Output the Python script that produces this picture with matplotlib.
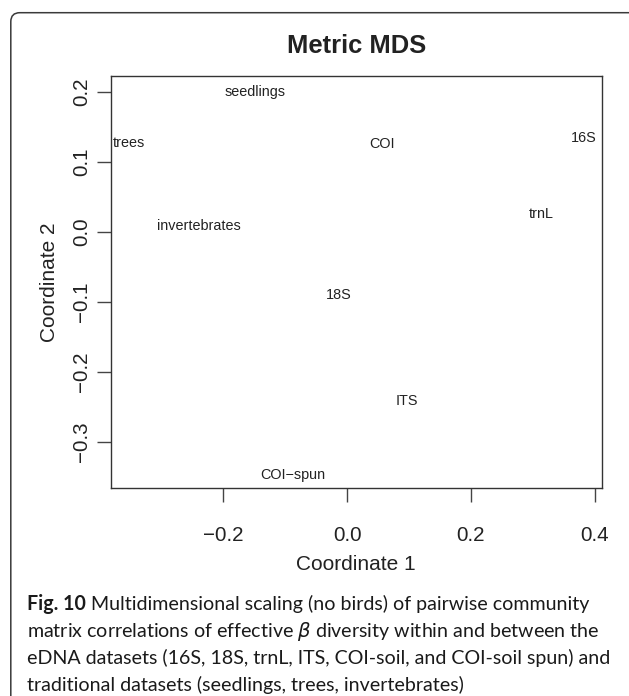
import matplotlib
matplotlib.use("Agg")
import matplotlib.pyplot as plt
from matplotlib.patches import FancyBboxPatch
from matplotlib.transforms import IdentityTransform

# MDS coordinates of each dataset
labels = ["16S", "18S", "trnL", "ITS", "COI", "COI\u2212spun",
          "seedlings", "trees", "invertebrates"]
coord1 = [0.382, -0.013, 0.314, 0.096, 0.057, -0.088, -0.149, -0.3525, -0.240]
coord2 = [0.136, -0.089, 0.027, -0.240, 0.127, -0.345, 0.201, 0.1285, 0.010]

xticks = [-0.2, 0.0, 0.2, 0.4]
yticks = [-0.3, -0.2, -0.1, 0.0, 0.1, 0.2]

title = "Metric MDS"
xlabel = "Coordinate 1"
ylabel = "Coordinate 2"
caption_bold = "Fig. 10"
caption_lines = [
    " Multidimensional scaling (no birds) of pairwise community",
    "matrix correlations of effective $\\beta$ diversity within and between the",
    "eDNA datasets (16S, 18S, trnL, ITS, COI-soil, and COI-soil spun) and",
    "traditional datasets (seedlings, trees, invertebrates)",
]

W, H = 629, 696
DPI = 100
plt.rcParams["font.family"] = ["Liberation Sans", "DejaVu Sans"]
plt.rcParams["axes.unicode_minus"] = True

fig = plt.figure(figsize=(W / DPI, H / DPI), dpi=DPI)
fig.patch.set_facecolor("white")


def fx(px):
    return px / W


def fy(py):
    return 1 - py / H


# plot region
left, right, top, bottom = 110.7, 601.7, 75.7, 488.3
ax = fig.add_axes([fx(left), fy(bottom), fx(right) - fx(left), fy(top) - fy(bottom)])

ink = "#222222"
for x, y, s in zip(coord1, coord2, labels):
    ax.text(x, y, s, ha="center", va="center_baseline", fontsize=10.4, color=ink)


def padded(vals, f=0.04):
    lo, hi = min(vals), max(vals)
    d = (hi - lo) * f
    return lo - d, hi + d


ax.set_xlim(*padded(coord1))
ax.set_ylim(*padded(coord2))
ax.set_xticks(xticks)
ax.set_yticks(yticks)
ax.set_xticklabels([f"{v:.1f}".replace("-", "\u2212") for v in xticks])
ax.set_yticklabels([f"{v:.1f}".replace("-", "\u2212") for v in yticks])

for sp in ax.spines.values():
    sp.set_linewidth(1.0)
    sp.set_color("#333333")

ax.tick_params(axis="both", length=10.4, width=1.0, color="#444444",
               labelsize=14.8, labelcolor=ink)
ax.tick_params(axis="x", pad=17)
ax.tick_params(axis="y", pad=3.9)
for t in ax.get_yticklabels():
    t.set_rotation(90)
    t.set_va("center")
    t.set_ha("right")

# titles
fig.text(fx(356.2), fy(53), title, ha="center", va="baseline",
         fontsize=18.4, fontweight="bold", color=ink)
fig.text(fx(356.2), fy(570), xlabel, ha="center", va="baseline",
         fontsize=15, color=ink)
fig.text(fx(58.8), fy(282), ylabel, ha="right", va="center", rotation=90,
         fontsize=15, color=ink)

# outer frame with rounded corner
frame = FancyBboxPatch((10.8, -30), 680, H - 12.7 + 30,
                       boxstyle="round,pad=0,rounding_size=9",
                       transform=IdentityTransform(), fill=False,
                       edgecolor="#3a3a3a", linewidth=1.1, clip_on=False)
fig.patches.append(frame)

# caption
cap_font = ["Lato", "DejaVu Sans"]
cap_x = 27
baselines = [610, 637, 664, 691]
target_total = 2163
fs = 14.0
cb = fig.text(fx(cap_x), fy(baselines[0]), caption_bold, ha="left", va="baseline",
              fontsize=fs, fontweight="bold", family=cap_font, color="#1a1a1a")
rest = [fig.text(fx(cap_x), fy(b), s, ha="left", va="baseline", fontsize=fs,
                 family=cap_font, color="#1a1a1a")
        for b, s in zip(baselines, caption_lines)]

fig.canvas.draw()
r = fig.canvas.get_renderer()
total = cb.get_window_extent(r).width + sum(t.get_window_extent(r).width for t in rest)
fs_new = fs * target_total / total
cb.set_fontsize(fs_new)
for t in rest:
    t.set_fontsize(fs_new)
fig.canvas.draw()
wb = cb.get_window_extent(r).width
rest[0].set_x(fx(cap_x + wb))

fig.savefig("out.png", dpi=DPI, facecolor="white")
